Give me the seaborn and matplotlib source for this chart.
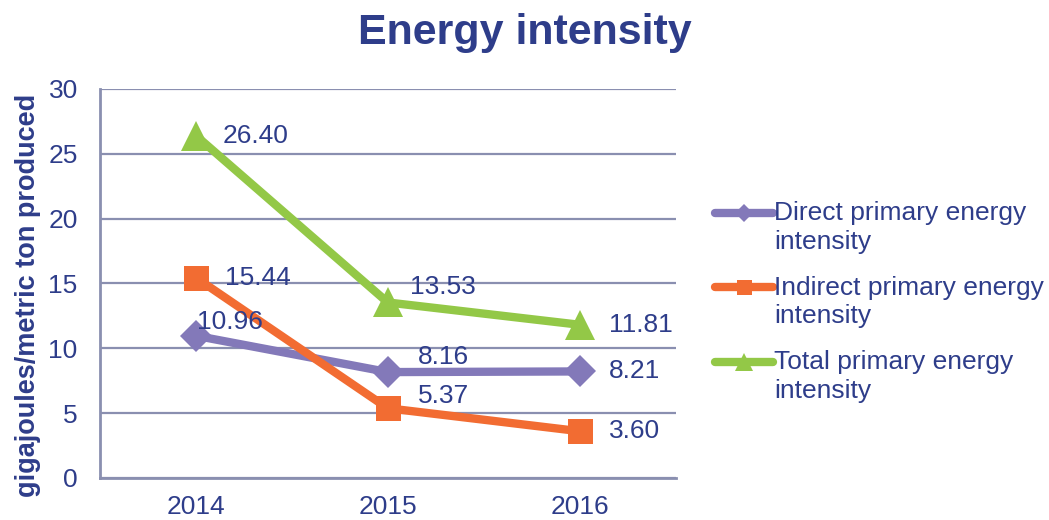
import matplotlib
matplotlib.use("Agg")
import matplotlib.pyplot as plt
from matplotlib.legend_handler import HandlerLine2D
import seaborn as sns
import pandas as pd

years = ["2014", "2015", "2016"]
direct = [10.96, 8.16, 8.21]
indirect = [15.44, 5.37, 3.60]
total = [26.40, 13.53, 11.81]
series_names = ["Direct primary energy\nintensity",
                "Indirect primary energy\nintensity",
                "Total primary energy\nintensity"]

df = pd.DataFrame({
    "year": years * 3,
    "value": direct + indirect + total,
    "series": [series_names[0]] * 3 + [series_names[1]] * 3 + [series_names[2]] * 3,
})

sns.set_theme(style="white")
plt.rcParams["font.family"] = ["Liberation Sans", "DejaVu Sans"]

TXT = "#2E3D8A"
GRID = "#8A8FB0"
colors = ["#8379B9", "#F26C32", "#93C847"]
markers = ["D", "s", "^"]
msizes = [16, 18, 21]

fig = plt.figure(figsize=(10.49, 5.2), dpi=100)
ax = fig.add_axes([0.0953, 0.081, 0.5487, 0.748])

for i, name in enumerate(series_names):
    sub = df[df["series"] == name]
    sns.lineplot(data=sub, x="year", y="value", ax=ax, color=colors[i],
                 marker=markers[i], markersize=msizes[i], linewidth=6,
                 markeredgewidth=0, label=name, sort=False)

ax.set_xlim(-0.5, 2.5)
ax.set_ylim(0, 30)
ax.set_yticks(range(0, 31, 5))
ax.grid(axis="y", color=GRID, linewidth=1.6)
ax.set_axisbelow(True)
for s in ["top", "right"]:
    ax.spines[s].set_visible(False)
ax.spines["left"].set_color(GRID)
ax.spines["left"].set_linewidth(2)
ax.spines["bottom"].set_color(GRID)
ax.spines["bottom"].set_linewidth(2)
ax.tick_params(axis="y", length=0, labelsize=19, labelcolor=TXT, pad=16)
ax.tick_params(axis="x", length=0, labelsize=19, labelcolor=TXT, pad=12)
ax.set_xlabel("")
ax.set_ylabel("gigajoules/metric ton produced", fontsize=19.5, fontweight="bold",
              color=TXT)
ax.yaxis.set_label_coords(-0.103, 0.47)

# data labels (offset in points)
offsets = {
    (0, 0): (1, 10), (0, 1): (21, 0), (0, 2): (19.5, 0),
    (1, 0): (21.5, 11), (1, 1): (21.5, 8.6), (1, 2): (16, 11),
    (2, 0): (21, 0), (2, 1): (21, 0), (2, 2): (21, 0),
}
data = [direct, indirect, total]
for si, vals in enumerate(data):
    for xi, v in enumerate(vals):
        dx, dy = offsets[(xi, si)]
        ax.annotate(f"{v:.2f}", (xi, v), xytext=(dx, dy), textcoords="offset points",
                    ha="left", va="center", fontsize=19, color=TXT)


class UpHandler(HandlerLine2D):
    def create_artists(self, legend, orig_handle, xdescent, ydescent, width,
                       height, fontsize, trans):
        return super().create_artists(legend, orig_handle, xdescent,
                                      ydescent - 1.15 * fontsize, width, height,
                                      fontsize, trans)


handles, labels = ax.get_legend_handles_labels()
leg = ax.legend(handles, labels, loc="center left", bbox_to_anchor=(1.068, 0.452),
                frameon=False, fontsize=19, labelcolor=TXT, handlelength=2.2,
                handletextpad=0.05, labelspacing=0.82, markerscale=0.6,
                borderpad=0, borderaxespad=0,
                handler_map={h: UpHandler() for h in handles})
for t in leg.get_texts():
    t.set_linespacing(1.25)

fig.suptitle("Energy intensity", x=0.5, y=0.975, fontsize=31, fontweight="bold", color=TXT)

fig.savefig("out.png", dpi=100)
